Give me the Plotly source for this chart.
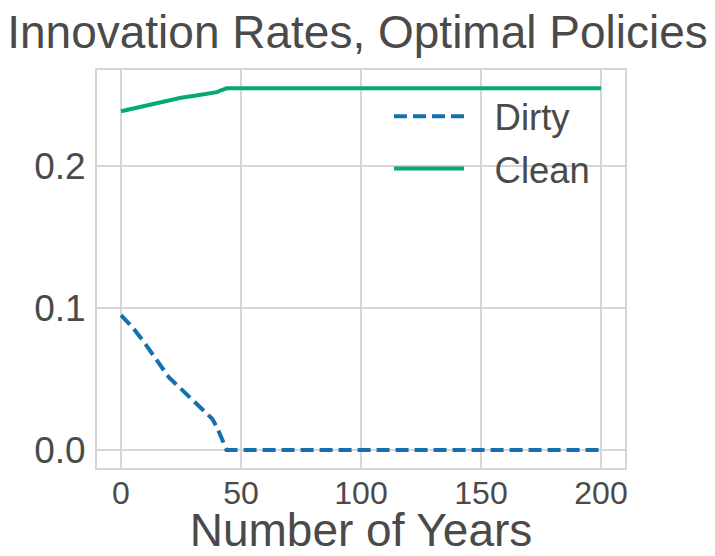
import plotly.graph_objects as go

years = [0, 5, 10, 15, 20, 25, 30, 35, 38, 40, 42, 44, 200]
dirty = [0.095, 0.086, 0.075, 0.063, 0.051, 0.043, 0.035, 0.027, 0.022, 0.016, 0.008, 0.0, 0.0]
clean = [0.2385, 0.2405, 0.2425, 0.2445, 0.2465, 0.2480, 0.2493, 0.2505, 0.2512, 0.2520, 0.2535, 0.2547, 0.2547]

series_names = ["Dirty", "Clean"]
x_ticks = [0, 50, 100, 150, 200]
y_ticks = [0.0, 0.1, 0.2]
y_tick_labels = ["0.0", "0.1", "0.2"]

TXT = "#4a4a4a"
GRID = "#d6d6d6"
FONT = "Liberation Sans, Arial, sans-serif"
PAD = "\u2002\u2009"

fig = go.Figure()
fig.add_trace(go.Scatter(x=years, y=dirty, mode="lines", name=PAD + series_names[0], legendgroup="d",
                         line=dict(color="#1570ad", width=4, dash="13px,6px")))
fig.add_trace(go.Scatter(x=years, y=clean, mode="lines", name=PAD + series_names[1], legendgroup="c",
                         line=dict(color="#05ab6c", width=4)))

fig.update_layout(
    width=715, height=556,
    margin=dict(l=97, r=90, t=70, b=88, autoexpand=False),
    paper_bgcolor="white", plot_bgcolor="white",
    font=dict(family=FONT, color=TXT),
    title=dict(text="Innovation Rates, Optimal Policies", x=0.5, xanchor="center",
               y=0.942, yref="container", yanchor="middle",
               font=dict(size=46, color=TXT)),
    showlegend=True,
    legend=dict(x=0.553, y=0.96, xanchor="left", yanchor="top",
                bgcolor="rgba(0,0,0,0)", font=dict(size=36.5, color=TXT),
                tracegroupgap=2, itemwidth=70),
)
fig.update_xaxes(range=[-10, 210], tickvals=x_ticks, showgrid=True, gridcolor=GRID, gridwidth=1.5,
                 zeroline=False, showline=True, mirror=True, linecolor=GRID, linewidth=2,
                 automargin=False,
                 tickfont=dict(size=32, color=TXT), ticks="", ticklabelstandoff=-4,
                 title=dict(text="Number of Years", font=dict(size=46, color=TXT), standoff=19))
fig.update_yaxes(range=[-0.0127, 0.2676], tickvals=y_ticks, ticktext=y_tick_labels,
                 showgrid=True, gridcolor=GRID, gridwidth=1.5, automargin=False,
                 zeroline=False, showline=True, mirror=True, linecolor=GRID, linewidth=2,
                 tickfont=dict(size=37, color=TXT), ticks="", ticklabelstandoff=2)

fig.write_html("out.html", config={"displayModeBar": False},
               post_script="document.body.style.margin='0px';")
